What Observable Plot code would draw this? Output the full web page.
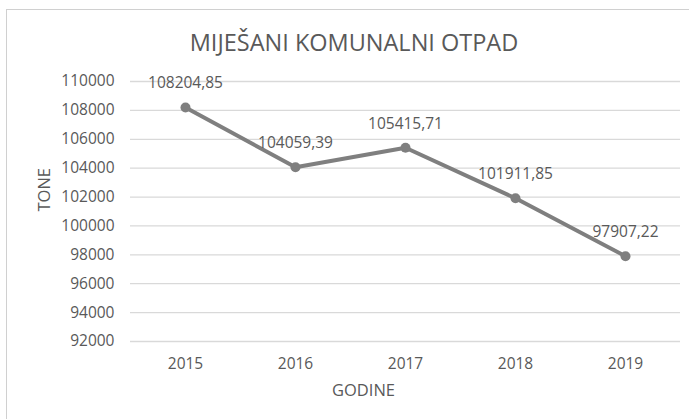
<!DOCTYPE html>
<html>
<head>
<meta charset="utf-8">
<script src="https://cdn.jsdelivr.net/npm/d3@7"></script>
<script src="https://cdn.jsdelivr.net/npm/@observablehq/plot@0.6"></script>
<style>
  html, body { margin: 0; padding: 0; background: #fff; overflow: hidden; width: 689px; height: 419px; }
  #frame { position: absolute; left: 6px; top: 9px; width: 720px; height: 440px; border: 1px solid #d0d0d0; box-sizing: border-box; }
  #title { position: absolute; left: 0; top: 27px; width: 708px; text-align: center; font-family: "Open Sans", sans-serif; font-size: 23.5px; line-height: 30px; color: #595959; }
  #chart { position: absolute; left: 0; top: 60px; }
</style>
</head>
<body>
<div id="frame"></div>
<div id="title">MIJEŠANI KOMUNALNI OTPAD</div>
<div id="chart"></div>
<script>
const years = ["2015", "2016", "2017", "2018", "2019"];
const tonnes = [108204.85, 104059.39, 105415.71, 101911.85, 97907.22];
const yTicks = [92000, 94000, 96000, 98000, 100000, 102000, 104000, 106000, 108000, 110000];
const yLabel = "TONE";
const xLabel = "GODINE";

const data = years.map((y, i) => ({year: y, value: tonnes[i], label: tonnes[i].toFixed(2).replace(".", ",")}));

const textColor = "#595959";

const chart = Plot.plot({
  width: 689,
  height: 359,
  marginLeft: 130,
  marginRight: 9,
  marginTop: 21,
  marginBottom: 78,
  style: {fontFamily: "Open Sans, sans-serif", fontSize: "15px", color: textColor, background: "transparent", overflow: "visible"},
  x: {type: "point", domain: years, padding: 0.5, label: null},
  y: {domain: [92000, 110000], label: null},
  marks: [
    Plot.gridY(yTicks, {stroke: "#d9d9d9", strokeOpacity: 1, strokeWidth: 1.3}),
    Plot.axisY(yTicks, {tickSize: 0, tickPadding: 16, tickFormat: d => String(d), fontSize: 15.5, fill: textColor}),
    Plot.axisX({tickSize: 0, tickPadding: 16, fontSize: 15.5, fill: textColor}),
    Plot.line(data, {x: "year", y: "value", stroke: "#7f7f7f", strokeWidth: 4, strokeLinejoin: "round"}),
    Plot.dot(data, {x: "year", y: "value", r: 5, fill: "#7f7f7f", stroke: "none"}),
    Plot.text(data, {x: "year", y: "value", text: "label", dy: -24, fontSize: 15.5, fill: textColor}),
    Plot.text([yLabel], {frameAnchor: "left", dx: -86, rotate: -90, fontSize: 16.5, fill: textColor}),
    Plot.text([xLabel], {frameAnchor: "bottom", dx: -42, dy: 54, fontSize: 16.5, fill: textColor})
  ]
});
document.getElementById("chart").appendChild(chart);
</script>
</body>
</html>
